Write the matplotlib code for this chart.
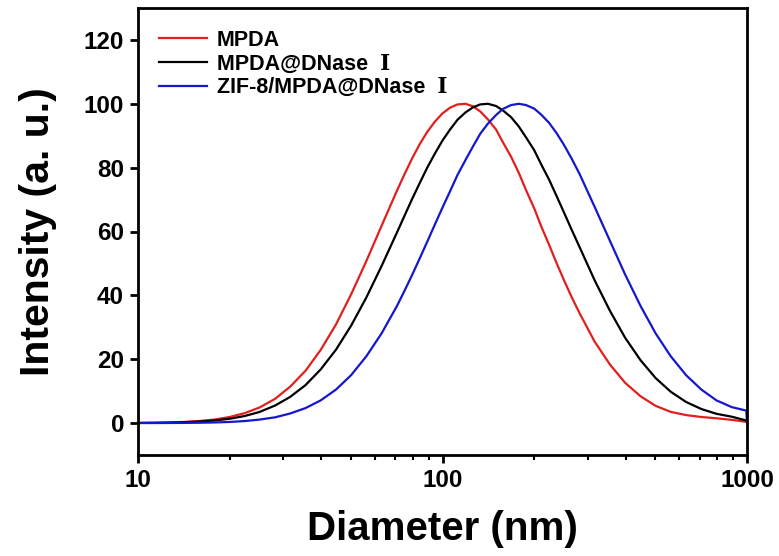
import matplotlib
matplotlib.use("Agg")
import matplotlib.pyplot as plt
from matplotlib.ticker import LogLocator, NullFormatter, FixedLocator

# diameters (nm)
diameter = [10, 11.2, 12.6, 14.1, 15.8, 17.8, 20, 22.4, 25.1, 28.2, 31.6, 35.5, 39.8, 44.7,
            50.1, 56.2, 63.1, 70.8, 75, 79.4, 84.1, 89.1, 94.4, 100, 106, 112, 119, 126,
            133, 141, 150, 158, 168, 178, 188, 200, 211, 224, 237, 251, 266, 282, 316, 355,
            398, 447, 501, 562, 631, 708, 794, 891, 995, 1000]

mpda = [0.05, 0.09, 0.18, 0.34, 0.62, 1.1, 1.9, 3.1, 4.9, 7.6, 11.4, 16.4, 22.9, 30.9,
        40.3, 50.7, 61.8, 72.7, 77.9, 82.8, 87.3, 91.2, 94.4, 97.0, 98.8, 99.8, 100.0, 99.2,
        97.6, 95.1, 91.9, 87.9, 83.4, 78.4, 73.0, 67.3, 61.6, 55.8, 50.1, 44.6, 39.3, 34.4,
        25.5, 18.3, 12.6, 8.4, 5.4, 3.5, 2.5, 1.9, 1.5, 1.0, 0.4, 0.3]

mpda_dnase = [0.04, 0.07, 0.14, 0.25, 0.46, 0.8, 1.35, 2.2, 3.5, 5.5, 8.2, 11.9, 16.8, 23.0,
              30.5, 39.3, 49.2, 59.6, 64.9, 70.1, 75.1, 80.0, 84.4, 88.5, 92.0, 95.0, 97.3, 98.9,
              99.8, 100.0, 99.3, 97.9, 95.8, 92.9, 89.5, 85.5, 81.0, 76.2, 71.1, 65.8, 60.4, 55.1,
              44.7, 35.1, 26.7, 19.7, 14.1, 9.8, 6.6, 4.4, 2.9, 2.0, 0.8, 0.3]

zif_mpda_dnase = [0.01, 0.01, 0.03, 0.05, 0.1, 0.19, 0.35, 0.63, 1.1, 1.8, 3.0, 4.7, 7.1, 10.5,
                  15.0, 20.9, 28.1, 36.6, 41.4, 46.3, 51.5, 56.8, 62.2, 67.5, 72.7, 77.7, 82.4, 86.7,
                  90.6, 93.8, 96.5, 98.4, 99.6, 100.0, 99.6, 98.5, 96.6, 94.0, 90.8, 87.0, 82.7, 78.0,
                  67.7, 57.0, 46.5, 36.7, 28.1, 20.9, 15.0, 10.5, 7.1, 5.0, 3.9, 0.2]

labels = ['MPDA', 'MPDA@DNase  \u2160', 'ZIF-8/MPDA@DNase  \u2160']
colors = ['#e0201c', '#000000', '#1616cc']
y_ticks = [0, 20, 40, 60, 80, 100, 120]
x_ticks = [10, 100, 1000]

font = 'Liberation Sans'

fig = plt.figure(figsize=(7.79, 5.56), dpi=100)
ax = fig.add_axes([138 / 779, 101 / 556, 609 / 779, 447 / 556])

for ys, lab, c in zip([mpda, mpda_dnase, zif_mpda_dnase], labels, colors):
    ax.plot(diameter, ys, color=c, lw=1.6, label=lab)

ax.set_xscale('log')
ax.set_xlim(10, 1000)
ax.set_ylim(-10, 130)
ax.xaxis.set_major_locator(FixedLocator(x_ticks))
ax.set_xticklabels([str(t) for t in x_ticks])
ax.xaxis.set_minor_locator(LogLocator(base=10, subs=range(2, 10)))
ax.xaxis.set_minor_formatter(NullFormatter())
ax.set_yticks(y_ticks)

for s in ax.spines.values():
    s.set_linewidth(2.0)
ax.tick_params(which='major', direction='out', length=6, width=2, pad=4)
ax.tick_params(which='minor', direction='out', length=3.5, width=1.5)
for t in ax.get_xticklabels() + ax.get_yticklabels():
    t.set_fontfamily(font)
    t.set_fontweight('bold')
    t.set_fontsize(17.5)

ax.set_xlabel('Diameter (nm)', fontfamily=font, fontweight='bold', fontsize=29, labelpad=13)
ax.set_ylabel('Intensity (a. u.)', fontfamily=font, fontweight='bold', fontsize=29.5, labelpad=19)

leg = ax.legend(loc='upper left', bbox_to_anchor=(0.02, 0.97), frameon=False,
                handlelength=2.25, handletextpad=0.45, labelspacing=0.12, borderaxespad=0,
                prop={'family': [font, 'DejaVu Serif'], 'weight': 'bold', 'size': 15.5})

fig.savefig('out.png', dpi=100)
